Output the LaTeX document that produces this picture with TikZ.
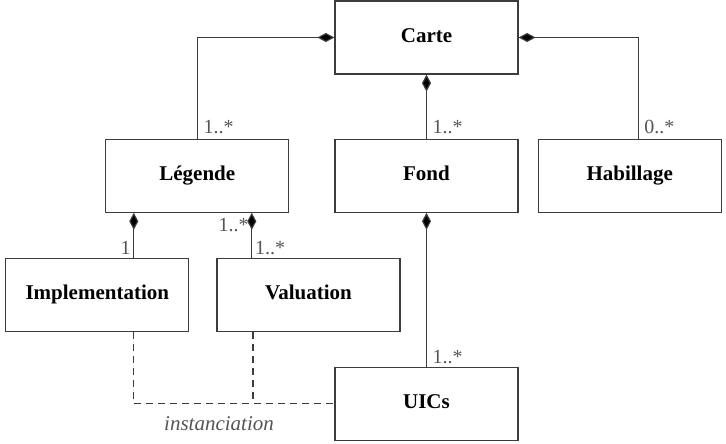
\documentclass[tikz,border=0pt]{standalone}
\usepackage{fontspec}
\setmainfont{Liberation Serif}
\usepackage{tikz}
\usetikzlibrary{arrows.meta, positioning, calc}
\definecolor{linegray}{RGB}{60, 60, 60}
\definecolor{labelgray}{RGB}{85, 85, 85}
\tikzset{
  x=1pt, y=1pt,
  classblock/.style={
    rectangle, draw=linegray, line width=1.2pt, fill=white,
    minimum width=183pt, minimum height=73pt, inner sep=0pt,
    text height=14pt, text depth=4pt,
    font=\fontsize{21}{25}\selectfont\bfseries, align=center
  },
  compline/.style={
    draw=linegray, line width=1.2pt,
    {Diamond[length=17pt, width=9pt, fill=black]}-
  },
  depline/.style={
    draw=linegray, line width=1.2pt, dash pattern=on 7pt off 5pt
  },
  multlabel/.style={
    text=labelgray, inner sep=3pt, font=\fontsize{20}{24}\selectfont
  }
}
\begin{document}
\begin{tikzpicture}

  \useasboundingbox (0,0) rectangle (726,444);

  % Classes
  \node[classblock] (carte) at (426.5,406.5) {Carte};
  \node[classblock, below=64pt of carte] (fond) {Fond};
  \node[classblock, left=45pt of fond] (legende) {Légende};
  \node[classblock, right=19pt of fond] (habillage) {Habillage};
  \node[classblock, below=45pt of legende, xshift=-100pt] (implementation) {Implementation};
  \node[classblock, right=27pt of implementation] (valuation) {Valuation};
  \node[classblock, below=154pt of fond] (uics) {UICs};

  % Compositions
  \draw[compline] (carte.west) -| (legende.north);
  \draw[compline] (carte.south) -- (fond.north);
  \draw[compline] (carte.east) -| ([xshift=8.5pt]habillage.north);
  \draw[compline] ([xshift=-63.5pt]legende.south) -- ([xshift=-63.5pt]legende.south |- implementation.north);
  \draw[compline] ([xshift=54.5pt]legende.south) -- ([xshift=54.5pt]legende.south |- valuation.north);
  \draw[compline] (fond.south) -- (uics.north);

  % Instanciation
  \draw[depline] ([xshift=36.5pt]implementation.south) |- (uics.west);
  \draw[depline] ([xshift=-55.5pt]valuation.south) -- ([xshift=-55.5pt]valuation.south |- uics.west);
  \node[multlabel, font=\fontsize{21}{25}\selectfont\itshape] (instlabel) at (219,20) {instanciation};

  % Multiplicities
  \node[multlabel, anchor=south west, xshift=3pt, yshift=2pt] at (legende.north) {1..*};
  \node[multlabel, anchor=south west, xshift=3pt, yshift=2pt] at (fond.north) {1..*};
  \node[multlabel, anchor=south west, xshift=11.5pt, yshift=2pt] at (habillage.north) {0..*};
  \node[multlabel, anchor=south east, xshift=-63.5pt, yshift=0pt] at (implementation.north -| legende.south) {1};
  \node[multlabel, anchor=north east, xshift=54.5pt, yshift=-2pt] at (legende.south) {1..*};
  \node[multlabel, anchor=south west, xshift=54.5pt, yshift=0pt] at (valuation.north -| legende.south) {1..*};
  \node[multlabel, anchor=south west, xshift=3pt, yshift=0pt] at (uics.north) {1..*};

\end{tikzpicture}
\end{document}
